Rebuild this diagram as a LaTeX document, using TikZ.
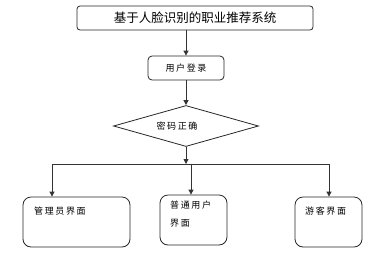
\documentclass[tikz,border=0pt]{standalone}
\usepackage{fontspec}
\setmainfont{Noto Sans CJK SC}
\newfontfamily\cjksmall[LetterSpace=18]{Noto Sans CJK SC}
\usetikzlibrary{shapes.geometric,arrows.meta,calc}
\begin{document}
\begin{tikzpicture}[x=1pt,y=-1pt,
  box/.style={draw=black!85,line width=0.8pt,inner sep=0pt},
  small/.style={font=\cjksmall\fontsize{9}{18}\selectfont,inner sep=0pt},
  conn/.style={draw=black!80,line width=0.8pt},
  arr/.style={conn,-{Triangle[length=5pt,width=5pt]}}]
\useasboundingbox (0,0) rectangle (390,263);
\node[box,rounded corners=3pt,minimum width=236pt,minimum height=24pt,
  font=\fontsize{12.5}{14}\selectfont] (title) at (195,18) {基于人脸识别的职业推荐系统};
\node[box,rounded corners=4pt,minimum width=76pt,minimum height=24pt,small] (login) at (186,68) {用户登录};
\node[box,diamond,minimum width=145pt,minimum height=41pt] (dia) at (186,126) {};
\node[small] (diatext) at (177,126) {密码正确};
\node[box,rounded corners=8pt,minimum width=107pt,minimum height=50pt] (admin) at (76.5,222) {};
\node[box,rounded corners=8pt,minimum width=67pt,minimum height=50pt] (user) at (193.5,220) {};
\node[box,rounded corners=8pt,minimum width=67pt,minimum height=50pt] (guest) at (328.5,222) {};
\node[small,anchor=west] (admint) at (34,211) {管理员界面};
\node[small,anchor=north west,align=left] (usert) at (170,201) {普通用户\\界面};
\node[small,anchor=west] (guestt) at (305,211) {游客界面};
\coordinate (junc) at (186,164);
\coordinate (hl) at (52,164);
\coordinate (hm) at (191,164);
\coordinate (hr) at (329,164);
\draw[arr] (title.south -| login) -- (login.north);
\draw[arr] (login.south) -- (dia.north);
\draw[arr] (dia.south) -- (junc);
\draw[conn] (hl) -- (hr);
\draw[arr] (hl) -- (hl |- admin.north);
\draw[arr] (hm) -- (hm |- user.north);
\draw[arr] (hr) -- (hr |- guest.north);
\end{tikzpicture}
\end{document}
